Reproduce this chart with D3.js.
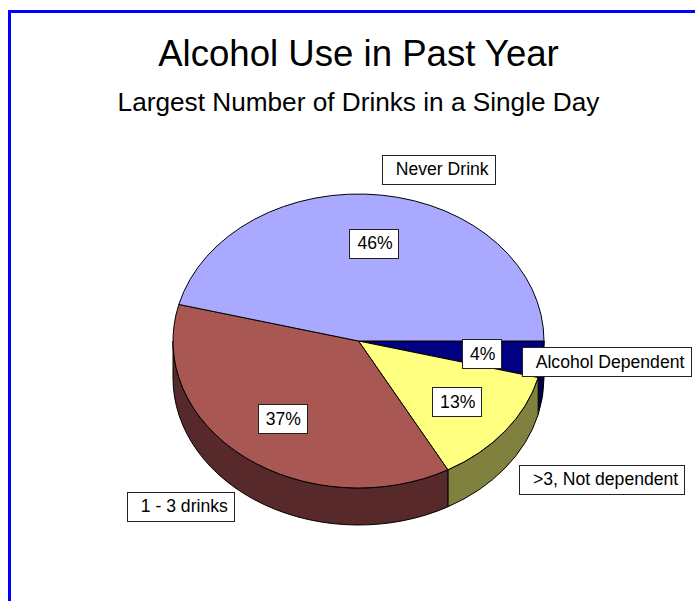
<!DOCTYPE html>
<html>
<head>
<meta charset="utf-8">
<script src="https://cdn.jsdelivr.net/npm/d3@7"></script>
<style>
  html, body { margin: 0; padding: 0; background: #fff; }
  svg { display: block; font-family: "Liberation Sans", Arial, sans-serif; }
</style>
</head>
<body>
<svg id="chart" width="695" height="601"></svg>
<script>
// Slices, clockwise from 3 o'clock
const categories = ["Alcohol Dependent", ">3, Not dependent", "1 - 3 drinks", "Never Drink"];
const shares = [4, 13, 37, 46];
const percentLabels = ["4%", "13%", "37%", "46%"];

const title = "Alcohol Use in Past Year";
const subtitle = "Largest Number of Drinks in a Single Day";

// Face and wall colours per slice
const topColors = ["#000080", "#FFFF80", "#A95753", "#A9A9FF"];
const sideColors = ["#000048", "#80803F", "#58292A", "#5A5A88"];

// Offsets of each category box from its slice's rim point
const labelNudge = [[64, 2], [97, 48], [-64, 49], [57, -26]];

const W = 695, H = 601;
const cx = 358.5, cy = 341, rx = 185.5, ry = 147, depth = 37;

const svg = d3.select("#chart");

// Frame: thick blue rule along the top and left edges
svg.append("path")
  .attr("d", `M9.5,${H} L9.5,11.5 L${W},11.5`)
  .attr("fill", "none")
  .attr("stroke", "#0000FF")
  .attr("stroke-width", 3);

svg.append("text")
  .attr("x", cx).attr("y", 66)
  .attr("text-anchor", "middle")
  .attr("font-size", 36.6)
  .text(title);

svg.append("text")
  .attr("x", cx).attr("y", 111)
  .attr("text-anchor", "middle")
  .attr("font-size", 26.2)
  .text(subtitle);

const pie = d3.pie().sort(null).value(d => d)
  .startAngle(Math.PI / 2).endAngle(Math.PI / 2 + 2 * Math.PI);
const arcs = pie(shares);

// Point on the tilted rim for a d3 pie angle (0 = 12 o'clock, clockwise)
const pt = (a, k = 1, dz = 0) => [cx + k * rx * Math.sin(a), cy - k * ry * Math.cos(a) + dz];
const fmt = p => `${p[0].toFixed(2)},${p[1].toFixed(2)}`;

// Front walls (visible half: 3 o'clock through 6 to 9 o'clock)
const walls = svg.append("g");
arcs.forEach((d, i) => {
  [0, 2 * Math.PI].forEach(off => {
    const s = Math.max(d.startAngle, Math.PI / 2 + off);
    const e = Math.min(d.endAngle, 3 * Math.PI / 2 + off);
    if (e - s > 1e-6) {
      const path = `M${fmt(pt(s))} A${rx},${ry} 0 0 1 ${fmt(pt(e))} ` +
        `L${fmt(pt(e, 1, depth))} A${rx},${ry} 0 0 0 ${fmt(pt(s, 1, depth))} Z`;
      walls.append("path")
        .attr("d", path)
        .attr("fill", sideColors[i])
        .attr("stroke", "#000")
        .attr("stroke-width", 1)
        .attr("stroke-linejoin", "round");
    }
  });
});

// Top faces
const tops = svg.append("g");
arcs.forEach((d, i) => {
  const large = (d.endAngle - d.startAngle) > Math.PI ? 1 : 0;
  const path = `M${cx},${cy} L${fmt(pt(d.startAngle))} ` +
    `A${rx},${ry} 0 ${large} 1 ${fmt(pt(d.endAngle))} Z`;
  tops.append("path")
    .attr("d", path)
    .attr("fill", topColors[i])
    .attr("stroke", "#000")
    .attr("stroke-width", 1)
    .attr("stroke-linejoin", "round");
});

// Boxed text label centred on (x, y)
function boxedLabel(text, x, y, pad, shift) {
  const g = svg.append("g");
  const rect = g.append("rect");
  const t = g.append("text")
    .attr("font-size", 17.6)
    .attr("text-anchor", "middle")
    .attr("x", x + shift)
    .attr("y", y + 6.2)
    .attr("fill", "#000")
    .text(text);
  const w = t.node().getComputedTextLength() + pad;
  const h = 29;
  rect.attr("x", Math.round(x - w / 2) + 0.5)
    .attr("y", Math.round(y - h / 2) + 0.5)
    .attr("width", Math.round(w))
    .attr("height", h)
    .attr("fill", "#fff")
    .attr("stroke", "#222")
    .attr("stroke-width", 1);
}

arcs.forEach((d, i) => {
  const mid = (d.startAngle + d.endAngle) / 2;
  const pIn = pt(mid, 0.67);
  boxedLabel(percentLabels[i], pIn[0], pIn[1], 14, 1);
  const pOut = pt(mid);
  boxedLabel(categories[i], pOut[0] + labelNudge[i][0], pOut[1] + labelNudge[i][1], 20, 3.5);
});
</script>
</body>
</html>
